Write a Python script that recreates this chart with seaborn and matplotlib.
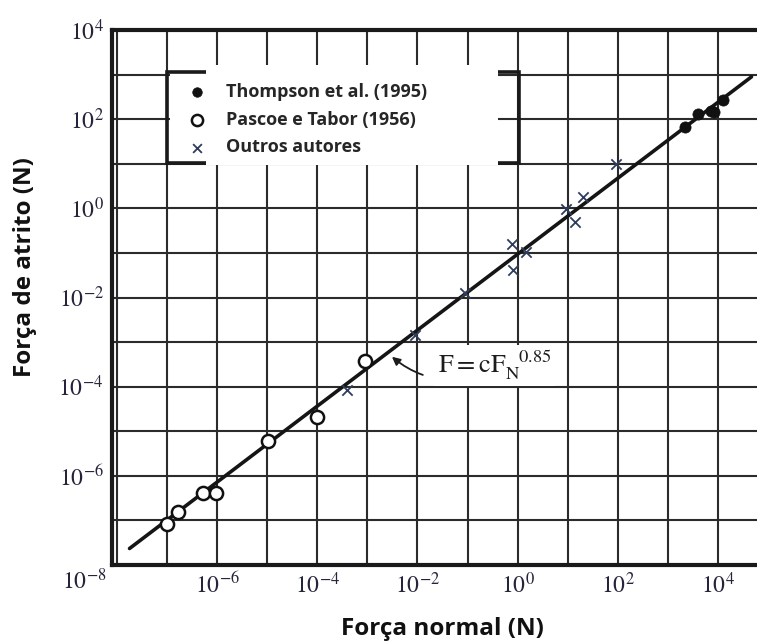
import numpy as np
import pandas as pd
import matplotlib
matplotlib.use("Agg")
import matplotlib.pyplot as plt
from matplotlib.ticker import FixedLocator, FuncFormatter, NullLocator
from matplotlib.patches import Rectangle
import seaborn as sns

# ---- data (log10 values) ----
thompson_logx = [3.34, 3.60, 3.87, 3.92, 4.10]
thompson_logy = [1.83, 2.11, 2.19, 2.17, 2.43]

pascoe_logx = [-7.01, -6.79, -6.28, -6.03, -4.98, -4.01, -3.05]
pascoe_logy = [-7.08, -6.81, -6.38, -6.38, -5.22, -4.69, -3.42]

outros_logx = [-3.41, -2.05, -1.05, -0.11, 0.17, -0.09, 0.96, 1.14, 1.30, 1.96]
outros_logy = [-4.08, -2.84, -1.89, -0.80, -0.97, -1.38, -0.02, -0.30, 0.26, 0.99]

fit_logx = [-7.75, 4.67]
fit_logy = [-7.63, 2.95]

series_labels = ["Thompson et al. (1995)", "Pascoe e Tabor (1956)", "Outros autores"]
tick_exponents = list(range(-8, 5))
labelled_exponents = [-6, -4, -2, 0, 2, 4]

# ---- styling ----
sns.set_theme(style="white")
plt.rcParams["font.family"] = ["Open Sans", "DejaVu Sans"]
plt.rcParams["mathtext.fontset"] = "stix"

fig = plt.figure(figsize=(7.57, 6.42), dpi=100)
ax = fig.add_axes([112 / 757, 1 - 565 / 642, 1 - 112 / 757, (565 - 30) / 642])
ax.set_xscale("log")
ax.set_yscale("log")
ax.set_xlim(10 ** -8.1, 10 ** 4.78)
ax.set_ylim(1e-8, 1e4)

df_t = pd.DataFrame({"x": 10.0 ** np.array(thompson_logx), "y": 10.0 ** np.array(thompson_logy)})
df_p = pd.DataFrame({"x": 10.0 ** np.array(pascoe_logx), "y": 10.0 ** np.array(pascoe_logy)})
df_o = pd.DataFrame({"x": 10.0 ** np.array(outros_logx), "y": 10.0 ** np.array(outros_logy)})
df_f = pd.DataFrame({"x": 10.0 ** np.array(fit_logx), "y": 10.0 ** np.array(fit_logy)})

sns.lineplot(data=df_f, x="x", y="y", ax=ax, color="#151515", linewidth=2.6, zorder=4, legend=False)
sns.scatterplot(data=df_t, x="x", y="y", ax=ax, color="#111111", marker="o", s=65,
                edgecolor="#111111", linewidth=0.5, zorder=5, label=series_labels[0])
sns.scatterplot(data=df_p, x="x", y="y", ax=ax, marker="o", s=90, facecolor="white",
                edgecolor="#111111", linewidth=1.8, zorder=5, label=series_labels[1])
sns.scatterplot(data=df_o, x="x", y="y", ax=ax, marker="x", s=55, color="#2f3d5c",
                linewidth=1.3, zorder=5, label=series_labels[2])

# grid / ticks
ax.xaxis.set_major_locator(FixedLocator([10.0 ** e for e in tick_exponents]))
ax.yaxis.set_major_locator(FixedLocator([10.0 ** e for e in tick_exponents]))
ax.xaxis.set_minor_locator(NullLocator())
ax.yaxis.set_minor_locator(NullLocator())

def fmt(v, pos):
    e = int(round(np.log10(v)))
    if e in labelled_exponents:
        return r"$\mathrm{10}^{\mathrm{%d}}$" % e
    return ""

ax.xaxis.set_major_formatter(FuncFormatter(fmt))
ax.yaxis.set_major_formatter(FuncFormatter(fmt))
ax.tick_params(axis="both", length=0, labelsize=17, colors="#24243a")
ax.tick_params(axis="x", pad=6)
ax.tick_params(axis="y", pad=6)
ax.grid(True, which="major", color="#2b2b2b", linewidth=1.5, zorder=1)
ax.set_axisbelow(True)

for side in ["left", "top", "bottom"]:
    ax.spines[side].set_visible(True)
    ax.spines[side].set_color("#1a1a1a")
    ax.spines[side].set_linewidth(3.0)
ax.spines["right"].set_visible(False)

# corner label 10^-8
ax.text(-0.008, -0.032, r"$\mathrm{10}^{\mathrm{-8}}$", transform=ax.transAxes,
        ha="right", va="center", fontsize=17, color="#24243a")

# legend frame + white cover
ax.add_patch(Rectangle((0.0853, 0.7514), 0.6311 - 0.0853, 0.9215 - 0.7514, transform=ax.transAxes,
                       fill=False, edgecolor="#1a1a1a", linewidth=2.6, zorder=3))
ax.add_patch(Rectangle((0.146, 0.748), 0.599 - 0.146, 0.935 - 0.748, transform=ax.transAxes,
                       facecolor="white", edgecolor="none", zorder=3.5))
ax.add_patch(Rectangle((0.0853 + 0.004, 0.7514 + 0.004), 0.146 - 0.0853, 0.9215 - 0.7514 - 0.008,
                       transform=ax.transAxes, facecolor="white", edgecolor="none", zorder=3.4))

leg = ax.legend(loc="upper left", bbox_to_anchor=(0.104, 0.918), frameon=False,
                prop={"family": ["Open Sans", "DejaVu Sans"], "weight": "bold", "size": 13},
                handletextpad=1.08, labelspacing=0.54, borderpad=0, handlelength=1.0,
                markerscale=0.85)
leg.set_zorder(6)

# annotation
ax.annotate(r"$\mathrm{F{=}cF}_{\mathrm{N}}^{\ \ \ \mathrm{0.85}}$",
            xy=(10 ** -2.51, 10 ** -3.33), xycoords="data",
            xytext=(10 ** -1.60, 10 ** -3.52), textcoords="data",
            fontsize=19, color="#1c1c1c", ha="left", va="center",
            bbox=dict(boxstyle="square,pad=0.15", fc="white", ec="none"),
            arrowprops=dict(arrowstyle="-|>", color="#1c1c1c", lw=1.3,
                            connectionstyle="arc3,rad=-0.35", shrinkA=8, shrinkB=0,
                            mutation_scale=12),
            zorder=6)

ax.set_xlabel("Força normal (N)", fontsize=17.5, fontweight="bold", color="#111111")
ax.xaxis.set_label_coords(0.513, -0.098)
ax.set_ylabel("Força de atrito (N)", fontsize=17.5, fontweight="bold", color="#111111")
ax.yaxis.set_label_coords(-0.116, 0.557)

fig.savefig("out.png", dpi=100)
